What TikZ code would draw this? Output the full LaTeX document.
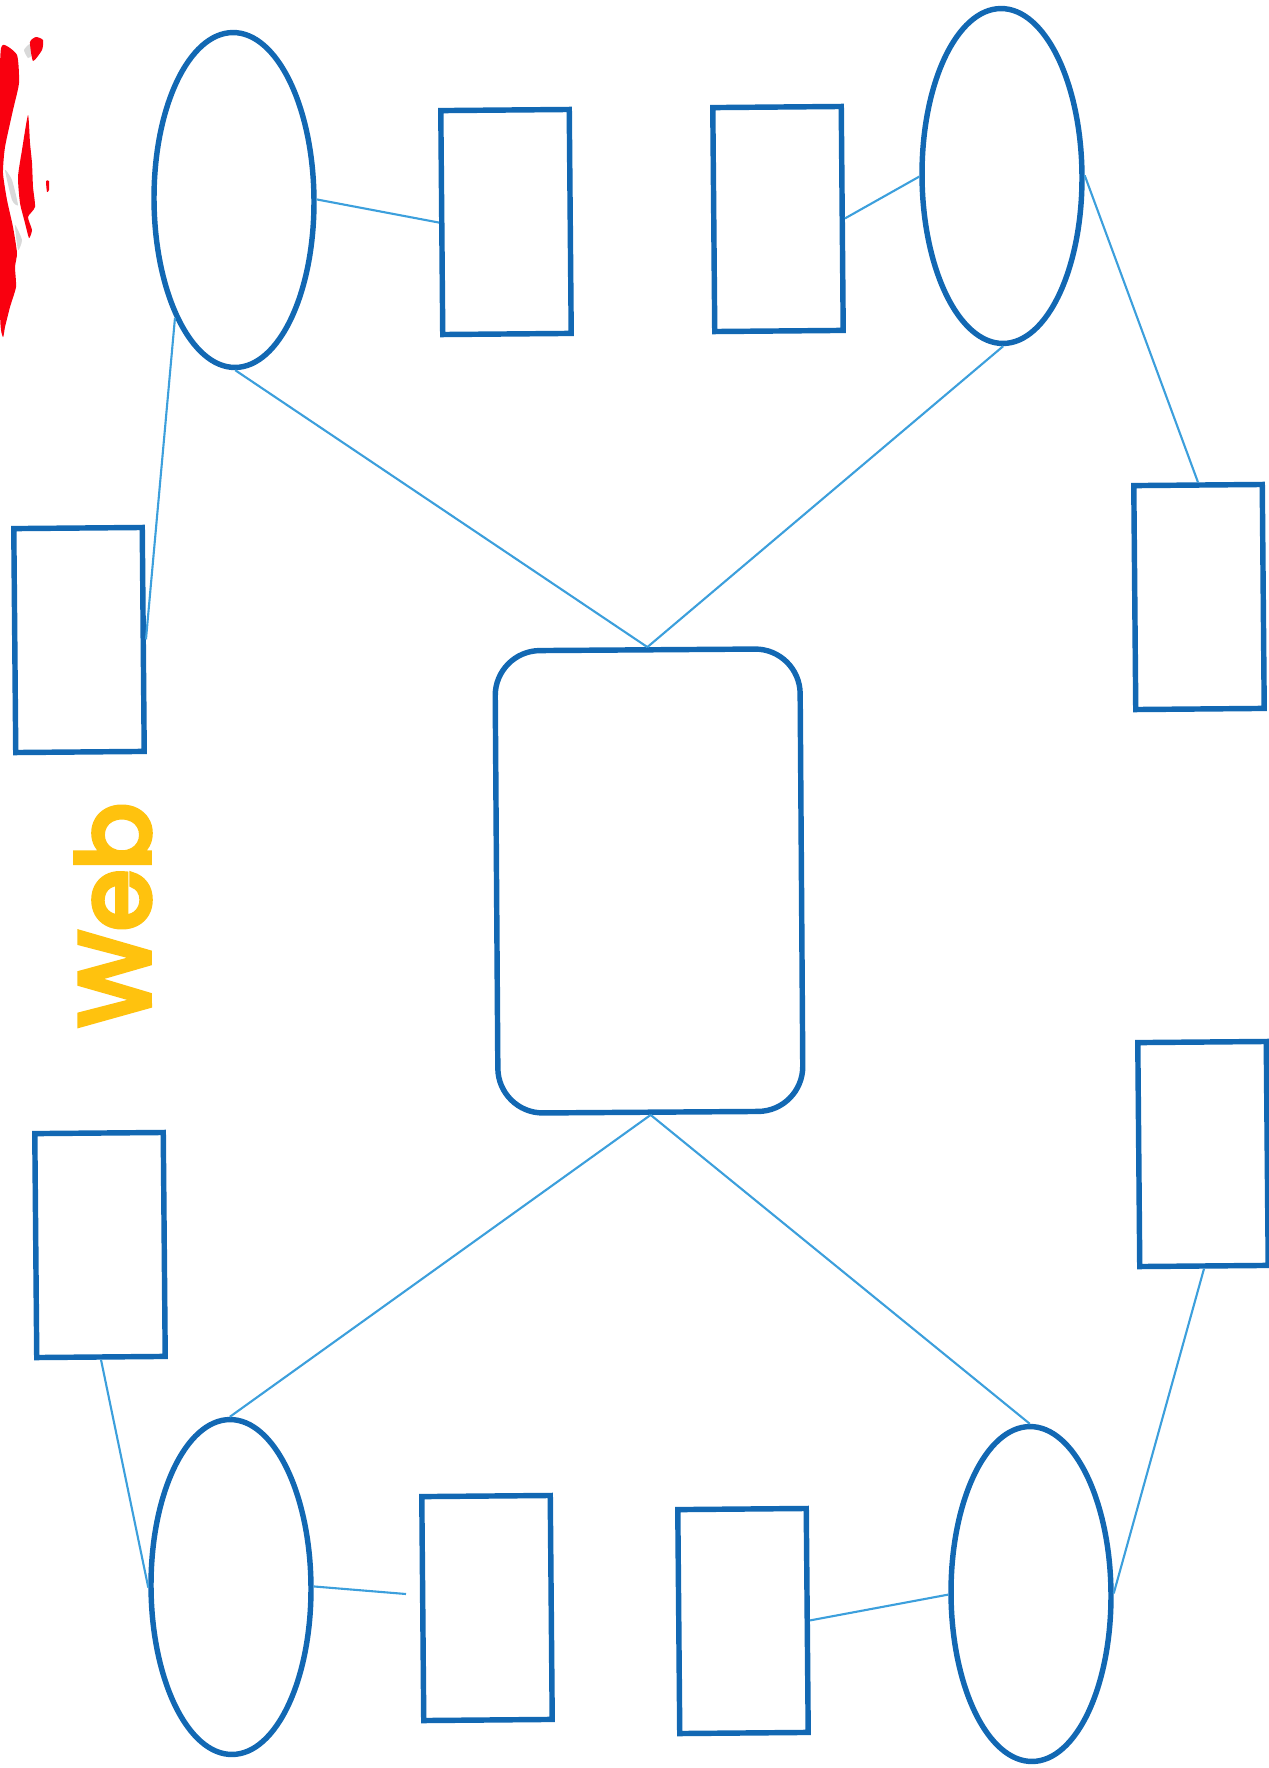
\documentclass[tikz,border=0pt]{standalone}
\usepackage{fontspec}
\usepackage{xcolor}
\usetikzlibrary{shapes.geometric}
\newfontfamily\webfont[FakeBold=6]{Poppins}
\definecolor{webblue}{HTML}{1268B3}
\definecolor{linkblue}{HTML}{3C9FDC}
\definecolor{webyellow}{HTML}{FFC20E}
\definecolor{webred}{HTML}{F9000F}
\tikzset{
 hub/.style={ellipse,draw=webblue,line width=3.1pt,minimum width=3.2cm,minimum height=6.7cm,inner sep=0,rotate=0.4},
 leaf/.style={rectangle,draw=webblue,line width=3.1pt,minimum width=2.57cm,minimum height=4.48cm,inner sep=0,rotate=0.5},
 core/.style={rectangle,rounded corners=0.9cm,draw=webblue,line width=3.1pt,minimum width=6.1cm,minimum height=9.25cm,inner sep=0,rotate=0.4},
 link/.style={draw=linkblue,line width=1.2pt},
 blot/.style={smooth cycle,tension=0.35},
 }

\begin{document}
\begin{tikzpicture}[x=0.02cm,y=-0.02cm]
        \useasboundingbox (0,0) rectangle (1268,1768);
        % red scribble
        \fill[black!15] plot[blot] coordinates {(24,50) (30,44) (32,55) (28,58)};
        \fill[black!15] plot[blot] coordinates {(5,170) (12,180) (18,205) (12,200)};
        \fill[black!15] plot[blot] coordinates {(15,225) (22,240) (18,250)};
        \fill[webred] plot[blot] coordinates {(3,45) (17,55) (19,83) (13,110) (5,147) (3,173) (7,200) (13,227) (17,253) (15,267) (16,287) (10,307) (5,327) (3,337) (0,310) (0,70)};
        \fill[webred] plot[blot] coordinates {(28,115) (30,143) (32,163) (33,187) (35,207) (28,217) (32,230) (29,238) (25,223) (20,203) (18,177) (22,150)};
        \fill[webred] plot[blot] coordinates {(30,42) (36,37) (43,40) (42,50) (33,61)};
        \fill[webred] plot[blot] coordinates {(46,181) (49,181) (49,190) (47,192)};
        % title
        \node[rotate=90,text=webyellow,font=\webfont\fontsize{56}{56}\selectfont] (title) at (113,915) {Web};
        % ovals
        \node[hub] (hubA) at (234,200) {};
        \node[hub] (hubB) at (1002,176) {};
        \node[hub] (hubC) at (231,1587) {};
        \node[hub] (hubD) at (1031,1594) {};
        % middle box
        \node[core] (middle) at (649,881) {};
        % small boxes
        \node[leaf] (boxA) at (506,222) {};
        \node[leaf] (boxB) at (778,219) {};
        \node[leaf] (boxC) at (1199,597) {};
        \node[leaf] (boxD) at (79,640) {};
        \node[leaf] (boxE) at (100,1245) {};
        \node[leaf] (boxF) at (1203,1154) {};
        \node[leaf] (boxG) at (487,1608) {};
        \node[leaf] (boxH) at (743,1621) {};
        \coordinate (stubG) at (406,1594);
        % links
        \draw[link] (hubA.east) -- (boxA.west);
        \draw[link] (boxB.east) -- (hubB.west);
        \draw[link] (hubB.east) -- (boxC.north);
        \draw[link] (hubA.243) -- (boxD.east);
        \draw[link] (hubA.south) -- (middle.north);
        \draw[link] (hubB.south) -- (middle.north);
        \draw[link] (hubC.north) -- (middle.south);
        \draw[link] (hubD.north) -- (middle.south);
        \draw[link] (boxE.south) -- (hubC.west);
        \draw[link] (hubC.east) -- (stubG);
        \draw[link] (boxH.east) -- (hubD.west);
        \draw[link] (hubD.east) -- (boxF.south);
\end{tikzpicture}
\end{document}
